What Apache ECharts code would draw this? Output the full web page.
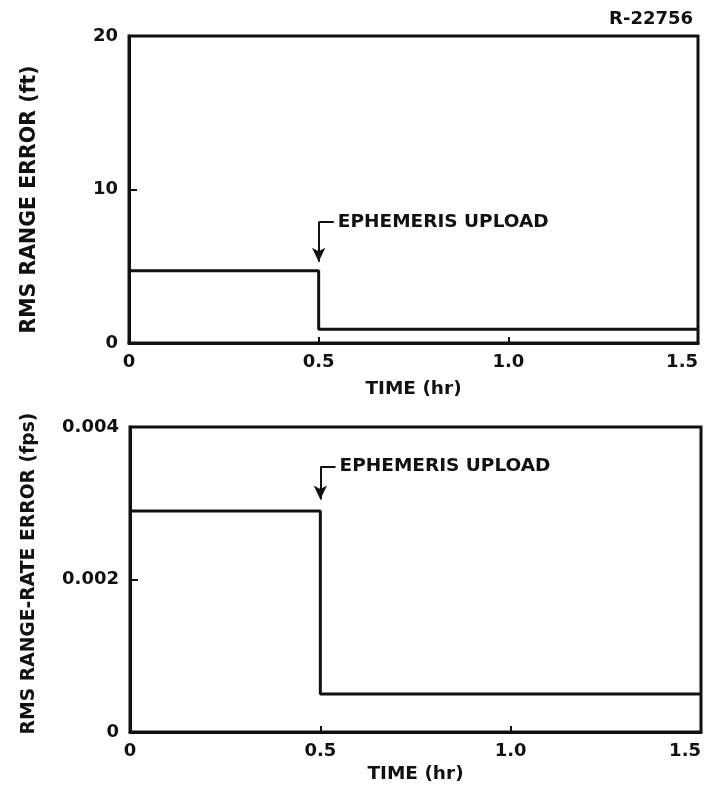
<!DOCTYPE html>
<html>
<head>
<meta charset="utf-8">
<script src="https://cdn.jsdelivr.net/npm/echarts@6/dist/echarts.min.js"></script>
<style>
  html, body { margin: 0; padding: 0; background: #fff; }
  #chart { width: 710px; height: 788px; }
</style>
</head>
<body>
<div id="chart"></div>
<script>
// step profiles (time in hr)
const timeHr = [0, 0.5, 0.5, 1.5]
const rangeErrorFt = [4.7, 4.7, 0.9, 0.9]
const rangeRateErrorFps = [0.0029, 0.0029, 0.0005, 0.0005]

const xTicks = [0, 0.5, 1.0, 1.5]
const topYTicks = [0, 10, 20]
const bottomYTicks = [0, 0.002, 0.004]

// annotation: arrow top / tip and leader end, per panel
const topNote = { x: 0.5, yTop: 7.9, yTip: 5.3, xEnd: 0.54 }
const bottomNote = { x: 0.5, yTop: 0.00348, yTip: 0.00305, xEnd: 0.54 }

const ink = '#111'
const font = 'DejaVu Sans'

const chart = echarts.init(document.getElementById('chart'))

const toPairs = (ys) => timeHr.map((t, i) => [t, ys[i]])

const xAxisFor = (gridIndex, nameGap) => ({
  type: 'value',
  gridIndex: gridIndex,
  min: 0,
  max: 1.5,
  interval: 0.5,
  name: 'TIME (hr)',
  nameLocation: 'middle',
  nameGap: nameGap,
  nameTextStyle: { color: ink, fontFamily: font, fontWeight: 'bold', fontSize: 18.5 },
  axisLine: { show: true, lineStyle: { color: ink, width: 3 } },
  axisTick: { show: true, inside: true, length: 6, lineStyle: { color: ink, width: 2 } },
  splitLine: { show: false },
  axisLabel: {
    color: ink, fontFamily: font, fontWeight: 'bold', fontSize: 18, margin: 10,
    alignMaxLabel: 'right',
    formatter: v => (xTicks.indexOf(v) < 0 ? '' : (v === 0 ? '0' : v.toFixed(1)))
  }
})

const yAxisFor = (gridIndex, name, ticks, nameGap, nameSize, namePad) => ({
  type: 'value',
  gridIndex: gridIndex,
  min: ticks[0],
  max: ticks[ticks.length - 1],
  interval: ticks[1] - ticks[0],
  name: name,
  nameLocation: 'middle',
  nameRotate: 90,
  nameGap: nameGap,
  nameTextStyle: {
    color: ink, fontFamily: font, fontWeight: 'bold', fontSize: nameSize, padding: namePad
  },
  axisLine: { show: true, lineStyle: { color: ink, width: 3 } },
  axisTick: { show: true, inside: true, length: 8, lineStyle: { color: ink, width: 2 } },
  splitLine: { show: false },
  axisLabel: {
    color: ink, fontFamily: font, fontWeight: 'bold', fontSize: 18, margin: 11,
    formatter: v => {
      const i = ticks.findIndex(t => Math.abs(t - v) < 1e-9)
      return i < 0 ? '' : String(ticks[i])
    }
  }
})

const noteLines = (note) => ({
  silent: true,
  animation: false,
  lineStyle: { color: ink, width: 2, type: 'solid' },
  data: [
    [
      { coord: [note.x, note.yTop], symbol: 'none' },
      { coord: [note.x, note.yTip], symbol: 'arrow', symbolSize: [10, 14], label: { show: false } }
    ],
    [
      { coord: [note.x, note.yTop], symbol: 'none' },
      {
        coord: [note.xEnd, note.yTop], symbol: 'none',
        label: {
          show: true, position: 'end', distance: 4, formatter: 'EPHEMERIS UPLOAD',
          color: ink, fontFamily: font, fontWeight: 'bold', fontSize: 18.5
        }
      }
    ]
  ]
})

const option = {
  animation: false,
  backgroundColor: '#fff',
  title: {
    text: 'R-22756',
    right: 12,
    top: 5,
    textStyle: { color: ink, fontFamily: font, fontWeight: 'bold', fontSize: 18 }
  },
  grid: [
    { left: 129, right: 12, top: 36, bottom: 445, show: true, borderColor: ink, borderWidth: 3, outerBoundsMode: 'none' },
    { left: 130, right: 9, top: 427, bottom: 56, show: true, borderColor: ink, borderWidth: 3, outerBoundsMode: 'none' }
  ],
  xAxis: [xAxisFor(0, 37), xAxisFor(1, 33)],
  yAxis: [
    yAxisFor(0, 'RMS RANGE ERROR (ft)', topYTicks, 89, 20.5, [0, 20, 0, 0]),
    yAxisFor(1, 'RMS RANGE-RATE ERROR (fps)', bottomYTicks, 91, 18.75, [0, 0, 0, 12])
  ],
  series: [
    {
      type: 'line',
      xAxisIndex: 0,
      yAxisIndex: 0,
      data: toPairs(rangeErrorFt),
      symbol: 'none',
      lineStyle: { color: ink, width: 3 },
      markLine: noteLines(topNote)
    },
    {
      type: 'line',
      xAxisIndex: 1,
      yAxisIndex: 1,
      data: toPairs(rangeRateErrorFps),
      symbol: 'none',
      lineStyle: { color: ink, width: 3 },
      markLine: noteLines(bottomNote)
    }
  ]
}

chart.setOption(option)
</script>
</body>
</html>
